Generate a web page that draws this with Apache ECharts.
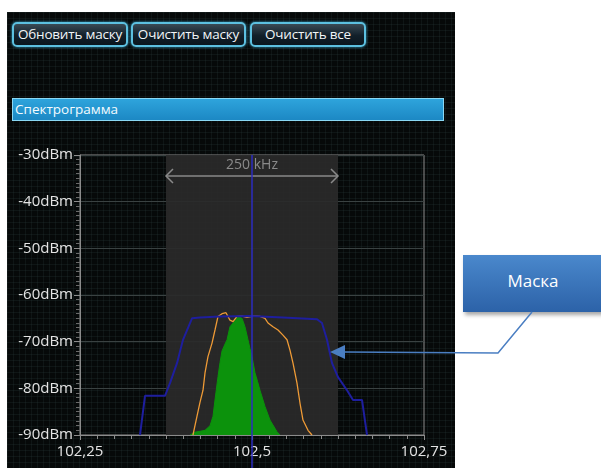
<!DOCTYPE html>
<html>
<head>
<meta charset="utf-8">
<script src="https://cdn.jsdelivr.net/npm/echarts@6/dist/echarts.min.js"></script>
<style>
html,body{margin:0;padding:0;background:#fff;width:601px;height:468px;overflow:hidden;font-family:"Open Sans","Noto Sans",sans-serif;}
.panel{position:absolute;left:7px;top:12px;width:448px;height:456px;background-color:#060909;
background-image:linear-gradient(rgba(70,95,95,0.14) 1px,transparent 1px),linear-gradient(90deg,rgba(70,95,95,0.14) 1px,transparent 1px);background-size:6px 6px;}
.btn{position:absolute;top:22px;height:21px;border:2px solid #5cc0e0;border-radius:5px;box-shadow:0 0 3px #3aa8d0;
background:linear-gradient(#3a4a55,#12202a 55%,#0a161e);color:#f2f6f8;font-size:13.5px;line-height:21px;text-align:center;box-sizing:content-box;white-space:nowrap;letter-spacing:-0.2px;}
.bar{position:absolute;left:12px;top:98px;width:428px;height:21px;border:1px solid #8ad8f4;background:linear-gradient(#2ea4dc,#1c88c4);
color:#f4fbff;font-size:13.5px;line-height:21px;padding-left:2px;box-sizing:content-box;}
.callout{position:absolute;left:463px;top:255px;width:140px;height:57px;background:linear-gradient(#4a88cc,#2c62a8);
box-shadow:2px 3px 4px rgba(0,0,0,0.35);color:#fff;font-size:17px;text-align:center;line-height:52px;}
#chart{position:absolute;left:0;top:0;width:601px;height:468px;}
</style>
</head>
<body>
<div class="panel"></div>
<div class="btn" style="left:12px;width:112px;">Обновить маску</div>
<div class="btn" style="left:131px;width:111px;">Очистить маску</div>
<div class="btn" style="left:250px;width:112px;">Очистить все</div>
<div class="bar">Спектрограмма</div>
<div class="callout">Маска</div>
<div id="chart"></div>
<script>
// ---- data ----
const yTicks = [-90, -80, -70, -60, -50, -40, -30];
const xTickLabels = {"102.25": "102,25", "102.5": "102,5", "102.75": "102,75"};
const bandStart = 102.375, bandEnd = 102.625, bandLabel = "250 kHz";
const carrierFreq = 102.5;
const calloutText = "Маска";

const maskFreq  = [102.3372, 102.3445, 102.3735, 102.3808, 102.391, 102.3997, 102.4128, 102.4244, 102.4535, 102.4971, 102.545, 102.5945, 102.6017, 102.609, 102.6163, 102.625, 102.6381, 102.6468, 102.6599, 102.6672];
const maskLevel = [-90, -81.6, -81.6, -78.9, -74.6, -69.6, -65, -64.8, -64.6, -64.5, -64.8, -65.2, -66, -69.6, -74.6, -77.6, -80.4, -82.5, -82.5, -90];

const maxFreq  = [102.4142, 102.42, 102.4244, 102.4288, 102.4317, 102.436, 102.4419, 102.4462, 102.4506, 102.4564, 102.4622, 102.468, 102.4724, 102.4782, 102.4855, 102.4927, 102.5015, 102.5116, 102.5189, 102.5233, 102.5305, 102.5378, 102.545, 102.5509, 102.5552, 102.5596, 102.5654, 102.5698, 102.5741, 102.5814, 102.5872];
const maxLevel = [-90, -86, -83, -80.4, -76.7, -73.2, -70.3, -67.5, -64.6, -64, -63.8, -65.4, -65.7, -64.6, -64.5, -64.8, -64.5, -64.6, -65, -66, -66.8, -67.5, -68.6, -69.6, -71.8, -74.6, -78.9, -83.2, -86.8, -89, -90];

const specFreq  = [102.41, 102.4172, 102.4245, 102.4317, 102.439, 102.4433, 102.4462, 102.4506, 102.4535, 102.4564, 102.4608, 102.4637, 102.468, 102.4724, 102.4753, 102.4797, 102.4826, 102.4855, 102.4898, 102.4942, 102.4971, 102.5, 102.5044, 102.508, 102.5116, 102.5189, 102.5262, 102.5363, 102.5407];
const specLevel = [-90, -89.4, -89.2, -89, -88, -86, -82.5, -77.5, -74.5, -72, -70.5, -69.6, -66.8, -66, -65.7, -64.6, -64.2, -65, -66.8, -69.6, -71.5, -73.2, -76.7, -78.5, -80.4, -83.9, -86.8, -89.3, -90];

const calloutTarget = [102.6134, -72.2];

// ---- chart ----
const pairs = (xs, ys) => xs.map((x, i) => [x, ys[i]]);
const chart = echarts.init(document.getElementById('chart'), null, {renderer: 'canvas'});
const axisGray = '#8c8c8c';
const font = '"Open Sans","Noto Sans",sans-serif';

chart.setOption({
  backgroundColor: 'transparent',
  animation: false,
  grid: {left: 80, top: 155, width: 344, height: 280, show: true, borderColor: axisGray, borderWidth: 1, backgroundColor: 'transparent'},
  xAxis: {
    type: 'value', min: 102.25, max: 102.75, interval: 0.25,
    axisLine: {lineStyle: {color: axisGray}},
    axisTick: {show: true, length: 5, lineStyle: {color: axisGray}},
    minorTick: {show: true, splitNumber: 10, length: 4, lineStyle: {color: axisGray}},
    splitLine: {show: false},
    axisLabel: {color: '#e4e4e4', fontSize: 15, fontFamily: font, margin: 9,
      formatter: v => xTickLabels[String(+v.toFixed(2))] || ''}
  },
  yAxis: {
    type: 'value', min: yTicks[0], max: yTicks[yTicks.length - 1], interval: 10,
    axisLine: {show: true, lineStyle: {color: axisGray}},
    axisTick: {show: true, length: 6, lineStyle: {color: axisGray}},
    minorTick: {show: true, splitNumber: 10, length: 4, lineStyle: {color: '#6a6a6a'}},
    splitLine: {show: true, lineStyle: {color: '#3a4242', width: 1}},
    axisLabel: {color: '#e4e4e4', fontSize: 15, fontFamily: font, margin: 7, formatter: v => v + 'dBm'}
  },
  series: [
    {
      type: 'line', name: 'band', data: [], silent: true,
      markArea: {silent: true, itemStyle: {color: 'rgba(42,42,42,0.92)'}, data: [[{xAxis: bandStart}, {xAxis: bandEnd}]]}
    },
    {
      type: 'line', name: 'spectrum', data: pairs(specFreq, specLevel), symbol: 'none', smooth: false,
      lineStyle: {color: '#0c920c', width: 1}, areaStyle: {color: '#0c920c', opacity: 1, origin: 'start'}, z: 3
    },
    {
      type: 'line', name: 'max', data: pairs(maxFreq, maxLevel), symbol: 'none',
      lineStyle: {color: '#ee9a36', width: 1.3}, z: 4
    },
    {
      type: 'line', name: 'mask', data: pairs(maskFreq, maskLevel), symbol: 'none',
      lineStyle: {color: '#1e1e9e', width: 2}, z: 5
    },
    {
      type: 'custom', name: 'annot', data: [[0]], z: 6, silent: true, clip: false,
      renderItem: (params, api) => {
        const lvl = -34.5, tlvl = -32.1;
        const a = api.coord([bandStart, lvl]), b = api.coord([bandEnd, lvl]);
        const t = api.coord([carrierFreq, tlvl]);
        const top = api.coord([carrierFreq, yTicks[yTicks.length - 1]]);
        const col = '#8a8a8a';
        return {type: 'group', children: [
          {type: 'line', shape: {x1: a[0], y1: a[1], x2: b[0], y2: b[1]}, style: {stroke: col, lineWidth: 1.5}},
          {type: 'polyline', shape: {points: [[a[0] + 7, a[1] - 7], [a[0], a[1]], [a[0] + 7, a[1] + 7]]}, style: {stroke: col, lineWidth: 1.5, fill: null}},
          {type: 'polyline', shape: {points: [[b[0] - 7, b[1] - 7], [b[0], b[1]], [b[0] - 7, b[1] + 7]]}, style: {stroke: col, lineWidth: 1.5, fill: null}},
          {type: 'text', style: {text: bandLabel, x: t[0], y: t[1], textAlign: 'center', textVerticalAlign: 'middle', fill: col, font: '14px ' + font}},
          {type: 'line', shape: {x1: top[0], y1: top[1], x2: top[0], y2: api.getHeight()}, style: {stroke: '#2c2cc0', lineWidth: 1.5}}
        ]};
      }
    }
  ]
});

// callout connector to the mask line
const tip = chart.convertToPixel({gridIndex: 0}, calloutTarget);
const arrowCol = '#4a7ec2';
chart.setOption({
  graphic: [
    {type: 'polyline', z: 10, shape: {points: [[532, 312], [498, 353], [tip[0] + 14, tip[1]]]}, style: {stroke: arrowCol, lineWidth: 1.5, fill: null}},
    {type: 'polygon', z: 10, shape: {points: [[tip[0], tip[1]], [tip[0] + 15, tip[1] - 7], [tip[0] + 15, tip[1] + 7]]}, style: {fill: arrowCol}}
  ]
});
</script>
</body>
</html>
